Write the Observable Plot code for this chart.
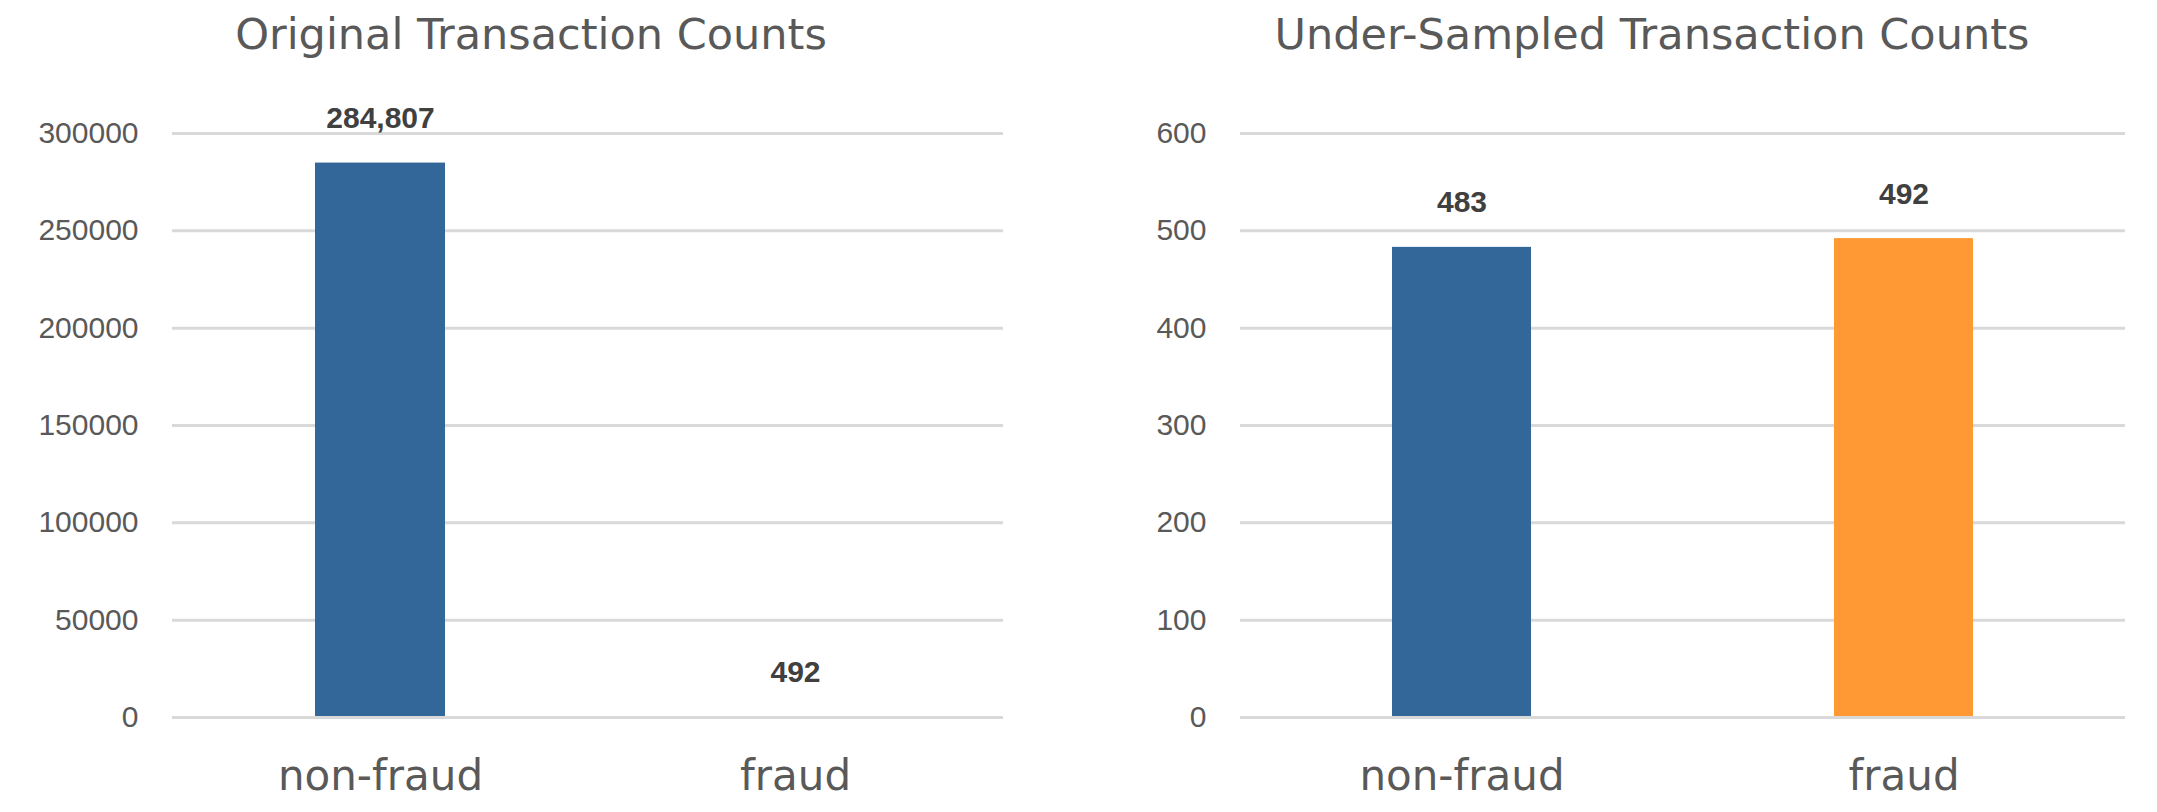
<!DOCTYPE html>
<html>
<head>
<meta charset="utf-8">
<script src="https://cdn.jsdelivr.net/npm/d3@7"></script>
<script src="https://cdn.jsdelivr.net/npm/@observablehq/plot@0.6"></script>
<style>
  body { margin: 0; background: #fff; }
  #wrap { position: relative; width: 2157px; height: 812px; overflow: hidden; background: #fff; }
  .title { position: absolute; top: 13px; font-family: "DejaVu Sans", sans-serif; font-size: 43px; line-height: 43px; color: #595959; text-align: center; white-space: nowrap; }
  .chart { position: absolute; top: 0; }
</style>
</head>
<body>
<div id="wrap"></div>
<script>
// ---- data ----
const categories = ["non-fraud", "fraud"];
const originalCounts = [284807, 492];
const sampledCounts = [483, 492];
const originalTicks = [0, 50000, 100000, 150000, 200000, 250000, 300000];
const sampledTicks = [0, 100, 200, 300, 400, 500, 600];
const titles = ["Original Transaction Counts", "Under-Sampled Transaction Counts"];
const originalColors = ["#336699", "#336699"];
const sampledColors = ["#336699", "#FF9933"];

const wrap = document.getElementById("wrap");
const fmt = d3.format(",");

function makeChart({counts, colors, ticks, width, marginLeft, marginRight}) {
  const data = categories.map((c, i) => ({category: c, value: counts[i], color: colors[i]}));
  return Plot.plot({
    width,
    height: 812,
    marginLeft,
    marginRight,
    marginTop: 133,
    marginBottom: 95,
    style: {background: "transparent", color: "#595959", fontFamily: "Liberation Sans, Arial, sans-serif", overflow: "visible"},
    x: {domain: categories, paddingInner: 0.686, paddingOuter: 0.343, label: null},
    y: {domain: [ticks[0], ticks[ticks.length - 1]], label: null},
    color: {type: "identity"},
    marks: [
      Plot.ruleY(ticks.filter(t => t !== 0), {stroke: "#d9d9d9", strokeWidth: 3}),
      Plot.barY(data, {x: "category", y: "value", fill: "color"}),
      Plot.ruleY([0], {stroke: "#d9d9d9", strokeWidth: 3}),
      Plot.text(data, {
        x: "category", y: "value", text: d => fmt(d.value),
        dy: -35, lineAnchor: "bottom", fontSize: 30, fontWeight: "bold",
        fill: "#404040", fontFamily: "Liberation Sans, Arial, sans-serif"
      }),
      Plot.axisY({
        ticks, tickSize: 0, tickPadding: 34, tickFormat: d => String(d),
        fontSize: 30, fontFamily: "Liberation Sans, Arial, sans-serif", label: null
      }),
      Plot.axisX({
        tickSize: 0, tickPadding: 43, fontSize: 42,
        fontFamily: "DejaVu Sans, sans-serif", label: null
      })
    ]
  });
}

const left = makeChart({counts: originalCounts, colors: originalColors, ticks: originalTicks, width: 1080, marginLeft: 172, marginRight: 77});
left.classList.add("chart");
left.style.left = "0px";
wrap.appendChild(left);

const right = makeChart({counts: sampledCounts, colors: sampledColors, ticks: sampledTicks, width: 1077, marginLeft: 160, marginRight: 32});
right.classList.add("chart");
right.style.left = "1080px";
wrap.appendChild(right);

const titleCenters = [531, 1652];
titles.forEach((t, i) => {
  const div = document.createElement("div");
  div.className = "title";
  div.textContent = t;
  div.style.left = (titleCenters[i] - 500) + "px";
  div.style.width = "1000px";
  wrap.appendChild(div);
});
</script>
</body>
</html>
